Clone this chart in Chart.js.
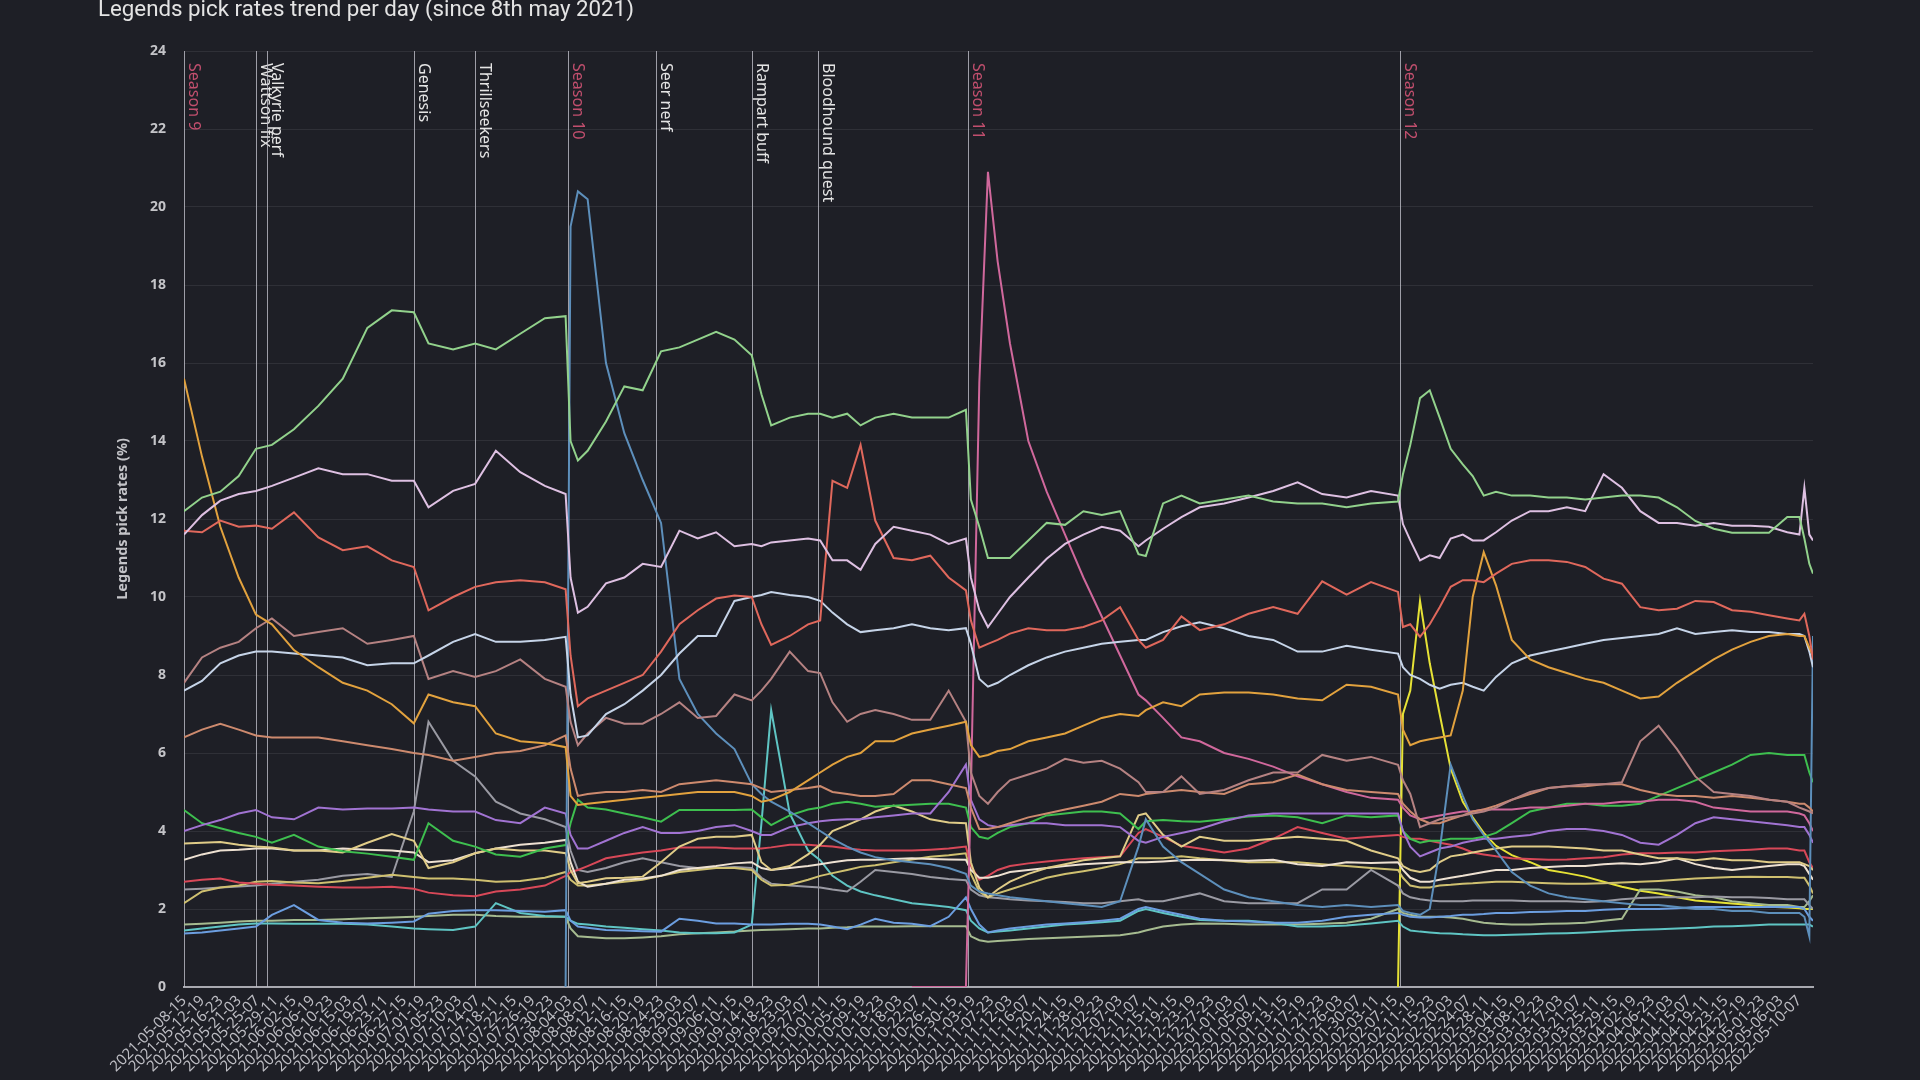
<!DOCTYPE html>
<html>
<head>
<meta charset="utf-8">
<title>Legends pick rates trend per day</title>
<script src="https://cdn.jsdelivr.net/npm/chart.js@4"></script>
<style>
  html, body { margin: 0; padding: 0; background: #1e1f26; overflow: hidden; }
  canvas { display: block; }
</style>
</head>
<body>
<canvas id="chart" width="1920" height="1080"></canvas>
<script>
'use strict';

var ctx = document.getElementById('chart').getContext('2d');

// hours since 2021-05-08 15:00 (one sample per reading)
var hours = [
  0, 98, 198, 298, 392, 479, 599, 732, 865, 999,
  1132, 1252, 1332, 1466, 1586, 1699, 1832, 1966, 2079, 2106,
  2146, 2199, 2299, 2399, 2499, 2599, 2699, 2799, 2899, 2999,
  3093, 3146, 3199, 3300, 3400, 3466, 3533, 3613, 3686, 3766,
  3866, 3966, 4066, 4166, 4260, 4287, 4333, 4380, 4433, 4500,
  4600, 4700, 4800, 4900, 5000, 5100, 5200, 5240, 5334, 5434,
  5534, 5667, 5800, 5934, 6067, 6201, 6334, 6467, 6614, 6641,
  6681, 6734, 6787, 6841, 6901, 6967, 7021, 7081, 7148, 7234,
  7334, 7434, 7534, 7634, 7734, 7834, 7934, 8034, 8134, 8234,
  8334, 8434, 8535, 8635, 8735, 8801, 8828, 8855, 8875
];

var wraithPicks = [
  12.2, 12.55, 12.7, 13.1, 13.8, 13.9, 14.3, 14.9, 15.6, 16.9,
  17.35, 17.3, 16.5, 16.35, 16.5, 16.35, 16.75, 17.15, 17.2, 14.0,
  13.5, 13.75, 14.5, 15.4, 15.3, 16.3, 16.4, 16.6, 16.8, 16.6,
  16.2, 15.2, 14.4, 14.6, 14.7, 14.7, 14.6, 14.7, 14.4, 14.6,
  14.7, 14.6, 14.6, 14.6, 14.8, 12.5, 11.8, 11.0, 11.0, 11.0,
  11.45, 11.9, 11.85, 12.2, 12.1, 12.2, 11.1, 11.05, 12.4, 12.6,
  12.4, 12.5, 12.6, 12.45, 12.4, 12.4, 12.3, 12.4, 12.45, 13.15,
  13.9, 15.1, 15.3, 14.6, 13.8, 13.4, 13.1, 12.6, 12.7, 12.6,
  12.6, 12.55, 12.55, 12.5, 12.55, 12.6, 12.6, 12.55, 12.3, 11.95,
  11.75, 11.65, 11.65, 11.65, 12.05, 12.05, 11.5, 10.85, 10.6
];
var octanePicks = [
  11.6, 12.1, 12.47, 12.64, 12.72, 12.85, 13.06, 13.3, 13.15, 13.15,
  12.98, 12.98, 12.3, 12.72, 12.9, 13.75, 13.2, 12.85, 12.64, 10.5,
  9.6, 9.75, 10.35, 10.5, 10.85, 10.77, 11.7, 11.5, 11.66, 11.3,
  11.36, 11.3, 11.4, 11.45, 11.5, 11.45, 10.94, 10.94, 10.7, 11.36,
  11.8, 11.7, 11.6, 11.36, 11.5, 10.5, 9.66, 9.23, 9.57, 10.0,
  10.5, 10.98, 11.36, 11.6, 11.8, 11.7, 11.3, 11.45, 11.75, 12.05,
  12.3, 12.4, 12.55, 12.72, 12.94, 12.64, 12.55, 12.72, 12.6, 11.87,
  11.45, 10.94, 11.07, 11.0, 11.5, 11.6, 11.45, 11.45, 11.66, 11.96,
  12.2, 12.2, 12.3, 12.2, 13.15, 12.8, 12.2, 11.9, 11.9, 11.83,
  11.9, 11.83, 11.83, 11.8, 11.66, 11.6, 12.8, 11.6, 11.45
];
var pathfinderPicks = [
  11.7, 11.66, 11.96, 11.8, 11.83, 11.75, 12.17, 11.53, 11.2, 11.3,
  10.94, 10.77, 9.66, 10.0, 10.26, 10.38, 10.43, 10.38, 10.2, 8.5,
  7.2, 7.4, 7.6, 7.8, 8.0, 8.6, 9.3, 9.66, 9.96, 10.04,
  10.0, 9.3, 8.77, 9.0, 9.3, 9.4, 12.98, 12.8, 13.9, 11.96,
  11.0, 10.94, 11.06, 10.5, 10.17, 9.4, 8.7, 8.8, 8.9, 9.06,
  9.2, 9.15, 9.15, 9.23, 9.4, 9.74, 8.9, 8.7, 8.9, 9.5,
  9.15, 9.3, 9.57, 9.74, 9.57, 10.4, 10.06, 10.38, 10.13, 9.23,
  9.3, 8.98, 9.3, 9.74, 10.26, 10.43, 10.43, 10.38, 10.6, 10.85,
  10.94, 10.94, 10.9, 10.77, 10.47, 10.34, 9.74, 9.66, 9.7, 9.9,
  9.87, 9.66, 9.62, 9.53, 9.45, 9.4, 9.57, 9.0, 8.4
];
var valkyriePicks = [
  15.6, 13.6, 11.8, 10.5, 9.55, 9.3, 8.64, 8.2, 7.8, 7.6,
  7.25, 6.76, 7.5, 7.3, 7.2, 6.5, 6.3, 6.25, 6.15, 4.9,
  4.67, 4.7, 4.75, 4.8, 4.85, 4.9, 4.95, 5.0, 5.0, 5.0,
  4.9, 4.75, 4.8, 5.0, 5.3, 5.5, 5.7, 5.9, 6.0, 6.3,
  6.3, 6.5, 6.6, 6.7, 6.8, 6.2, 5.9, 5.95, 6.05, 6.1,
  6.3, 6.4, 6.5, 6.7, 6.9, 7.0, 6.95, 7.1, 7.3, 7.2,
  7.5, 7.55, 7.55, 7.5, 7.4, 7.35, 7.75, 7.7, 7.5, 6.6,
  6.2, 6.3, 6.35, 6.4, 6.45, 7.6, 10.0, 11.15, 10.3, 8.9,
  8.4, 8.2, 8.05, 7.9, 7.8, 7.6, 7.4, 7.45, 7.8, 8.1,
  8.4, 8.65, 8.85, 9.0, 9.05, 9.0, 9.0, 8.7, 8.5
];
var bloodhoundPicks = [
  7.6, 7.85, 8.3, 8.5, 8.6, 8.6, 8.55, 8.5, 8.45, 8.25,
  8.3, 8.3, 8.5, 8.85, 9.05, 8.85, 8.85, 8.9, 8.98, 7.5,
  6.4, 6.45, 7.0, 7.25, 7.6, 8.0, 8.55, 9.0, 9.0, 9.9,
  10.0, 10.05, 10.13, 10.05, 10.0, 9.9, 9.6, 9.3, 9.1, 9.15,
  9.2, 9.3, 9.2, 9.15, 9.2, 8.8, 7.9, 7.7, 7.8, 8.0,
  8.25, 8.45, 8.6, 8.7, 8.8, 8.85, 8.9, 8.9, 9.1, 9.25,
  9.35, 9.2, 9.0, 8.9, 8.6, 8.6, 8.75, 8.65, 8.55, 8.2,
  8.0, 7.9, 7.75, 7.65, 7.75, 7.8, 7.7, 7.6, 7.95, 8.3,
  8.5, 8.6, 8.7, 8.8, 8.9, 8.95, 9.0, 9.05, 9.2, 9.05,
  9.1, 9.15, 9.1, 9.1, 9.05, 9.05, 9.0, 8.6, 8.2
];
var lifelinePicks = [
  7.8, 8.45, 8.7, 8.85, 9.2, 9.45, 9.0, 9.1, 9.2, 8.8,
  8.9, 9.0, 7.9, 8.1, 7.95, 8.1, 8.4, 7.9, 7.7, 6.8,
  6.2, 6.5, 6.9, 6.75, 6.75, 7.0, 7.3, 6.9, 6.95, 7.5,
  7.35, 7.6, 7.9, 8.6, 8.1, 8.05, 7.3, 6.8, 7.0, 7.1,
  7.0, 6.85, 6.85, 7.6, 6.8, 5.5, 4.9, 4.7, 5.0, 5.3,
  5.45, 5.6, 5.85, 5.75, 5.8, 5.6, 5.25, 5.0, 5.0, 5.4,
  4.95, 5.05, 5.3, 5.5, 5.5, 5.95, 5.8, 5.9, 5.7, 5.3,
  4.95, 4.1, 4.2, 4.3, 4.35, 4.4, 4.45, 4.5, 4.6, 4.8,
  5.0, 5.1, 5.15, 5.2, 5.2, 5.25, 6.3, 6.7, 6.1, 5.4,
  5.0, 4.95, 4.9, 4.8, 4.75, 4.6, 4.55, 4.5, 4.45
];
var causticPicks = [
  6.4, 6.6, 6.75, 6.6, 6.45, 6.4, 6.4, 6.4, 6.3, 6.2,
  6.1, 6.0, 5.95, 5.8, 5.9, 6.0, 6.05, 6.2, 6.45, 5.6,
  4.9, 4.95, 5.0, 5.0, 5.05, 5.0, 5.2, 5.25, 5.3, 5.25,
  5.2, 5.1, 5.0, 5.05, 5.1, 5.15, 5.0, 4.95, 4.9, 4.9,
  4.95, 5.3, 5.3, 5.2, 5.1, 4.6, 4.05, 4.05, 4.1, 4.2,
  4.35, 4.45, 4.55, 4.65, 4.75, 4.95, 4.9, 4.95, 5.0, 5.05,
  5.0, 4.95, 5.2, 5.25, 5.45, 5.2, 5.05, 5.0, 4.95, 4.7,
  4.5, 4.3, 4.2, 4.2, 4.3, 4.4, 4.5, 4.55, 4.65, 4.8,
  4.95, 5.1, 5.15, 5.15, 5.2, 5.2, 5.05, 4.95, 4.9, 4.9,
  4.85, 4.9, 4.85, 4.8, 4.75, 4.7, 4.7, 4.6, 4.5
];
var seerPicks = [
  null, null, null, null, null, null, null, null, null, null,
  null, null, null, null, null, null, null, null, 0, 19.5,
  20.4, 20.2, 16.0, 14.2, 13.0, 11.9, 7.9, 7.0, 6.5, 6.1,
  5.2, 4.95, 4.75, 4.5, 4.2, 4.0, 3.8, 3.6, 3.45, 3.33,
  3.25, 3.2, 3.15, 3.05, 2.9, 2.6, 2.45, 2.4, 2.35, 2.3,
  2.25, 2.2, 2.15, 2.1, 2.05, 2.2, 3.6, 4.3, 3.6, 3.2,
  2.9, 2.5, 2.3, 2.2, 2.1, 2.05, 2.1, 2.05, 2.1, 1.95,
  1.9, 1.85, 2.0, 3.5, 5.7, 4.9, 4.3, 3.9, 3.5, 2.95,
  2.6, 2.4, 2.3, 2.25, 2.2, 2.15, 2.1, 2.1, 2.05, 2.0,
  2.0, 1.95, 1.95, 1.9, 1.9, 1.9, 1.8, 1.3, 9.0
];
var ashPicks = [
  null, null, null, null, null, null, null, null, null, null,
  null, null, null, null, null, null, null, null, null, null,
  null, null, null, null, null, null, null, null, null, null,
  null, null, null, null, null, null, null, null, null, null,
  null, 0, 0, 0, 0, 5.0, 15.5, 20.9, 18.6, 16.5,
  14.0, 12.7, 11.6, 10.5, 9.5, 8.5, 7.5, 7.35, 6.9, 6.4,
  6.3, 6.0, 5.85, 5.65, 5.4, 5.2, 5.0, 4.85, 4.8, 4.6,
  4.4, 4.3, 4.35, 4.4, 4.45, 4.5, 4.5, 4.55, 4.55, 4.55,
  4.6, 4.6, 4.65, 4.7, 4.7, 4.75, 4.75, 4.8, 4.8, 4.75,
  4.6, 4.55, 4.5, 4.5, 4.5, 4.45, 4.4, 4.2, 4.0
];
var horizonPicks = [
  4.0, 4.15, 4.28, 4.45, 4.54, 4.35, 4.3, 4.6, 4.55, 4.58,
  4.58, 4.6, 4.55, 4.5, 4.5, 4.28, 4.2, 4.6, 4.45, 3.9,
  3.55, 3.55, 3.75, 3.95, 4.1, 3.95, 3.95, 4.0, 4.1, 4.15,
  4.0, 3.9, 3.9, 4.1, 4.2, 4.25, 4.28, 4.3, 4.3, 4.35,
  4.4, 4.45, 4.45, 5.0, 5.7, 4.8, 4.3, 4.15, 4.1, 4.15,
  4.2, 4.2, 4.15, 4.15, 4.15, 4.1, 3.75, 3.7, 3.85, 3.95,
  4.05, 4.25, 4.4, 4.45, 4.45, 4.45, 4.45, 4.45, 4.45, 4.0,
  3.6, 3.35, 3.45, 3.55, 3.6, 3.7, 3.75, 3.8, 3.8, 3.85,
  3.9, 4.0, 4.05, 4.05, 4.0, 3.9, 3.7, 3.65, 3.9, 4.2,
  4.35, 4.3, 4.25, 4.2, 4.15, 4.1, 4.1, 3.9, 3.7
];
var bangalorePicks = [
  4.54, 4.2, 4.07, 3.95, 3.85, 3.7, 3.9, 3.6, 3.48, 3.42,
  3.34, 3.26, 4.2, 3.75, 3.6, 3.4, 3.34, 3.55, 3.64, 4.2,
  4.8, 4.6, 4.55, 4.45, 4.35, 4.24, 4.54, 4.54, 4.54, 4.54,
  4.55, 4.35, 4.15, 4.4, 4.55, 4.6, 4.7, 4.75, 4.7, 4.62,
  4.65, 4.67, 4.7, 4.7, 4.6, 4.1, 3.85, 3.8, 3.95, 4.1,
  4.2, 4.4, 4.45, 4.5, 4.5, 4.45, 4.05, 4.25, 4.28, 4.25,
  4.24, 4.3, 4.37, 4.4, 4.35, 4.2, 4.4, 4.35, 4.4, 4.0,
  3.8, 3.7, 3.75, 3.75, 3.8, 3.8, 3.8, 3.85, 3.95, 4.2,
  4.5, 4.6, 4.7, 4.7, 4.65, 4.65, 4.7, 4.9, 5.1, 5.3,
  5.5, 5.7, 5.95, 6.0, 5.95, 5.95, 5.95, 5.5, 5.25
];
var gibraltarPicks = [
  3.68, 3.7, 3.72, 3.65, 3.6, 3.58, 3.5, 3.5, 3.45, 3.7,
  3.92, 3.75, 3.05, 3.2, 3.43, 3.55, 3.5, 3.5, 3.43, 3.0,
  2.66, 2.7, 2.79, 2.8, 2.83, 3.2, 3.6, 3.8, 3.85, 3.85,
  3.9, 3.2, 3.0, 3.1, 3.4, 3.65, 4.0, 4.15, 4.3, 4.5,
  4.65, 4.5, 4.3, 4.22, 4.2, 3.2, 2.55, 2.3, 2.5, 2.7,
  2.9, 3.05, 3.15, 3.25, 3.3, 3.35, 4.4, 4.45, 3.9, 3.6,
  3.85, 3.75, 3.75, 3.8, 3.85, 3.8, 3.75, 3.5, 3.3, 3.1,
  3.0, 2.95, 3.0, 3.2, 3.35, 3.4, 3.45, 3.5, 3.55, 3.6,
  3.6, 3.6, 3.58, 3.55, 3.5, 3.5, 3.4, 3.3, 3.3, 3.25,
  3.3, 3.25, 3.25, 3.2, 3.2, 3.2, 3.15, 3.1, 3.0
];
var miragePicks = [
  3.26, 3.4, 3.5, 3.52, 3.55, 3.55, 3.5, 3.5, 3.55, 3.52,
  3.5, 3.45, 3.2, 3.25, 3.43, 3.55, 3.65, 3.7, 3.77, 3.2,
  2.7, 2.57, 2.65, 2.75, 2.78, 2.85, 3.0, 3.05, 3.1, 3.17,
  3.2, 3.05, 3.0, 3.05, 3.1, 3.15, 3.2, 3.25, 3.26, 3.26,
  3.28, 3.3, 3.28, 3.27, 3.26, 3.0, 2.8, 2.8, 2.85, 2.95,
  3.0, 3.05, 3.1, 3.15, 3.17, 3.2, 3.2, 3.2, 3.22, 3.25,
  3.26, 3.25, 3.24, 3.26, 3.15, 3.1, 3.2, 3.18, 3.2, 3.0,
  2.8, 2.7, 2.7, 2.75, 2.8, 2.85, 2.9, 2.95, 3.0, 3.0,
  3.05, 3.08, 3.1, 3.1, 3.15, 3.17, 3.15, 3.2, 3.3, 3.15,
  3.05, 3.0, 3.05, 3.1, 3.15, 3.15, 3.1, 2.9, 2.75
];
var revenantPicks = [
  2.7, 2.75, 2.78, 2.68, 2.65, 2.62, 2.6, 2.57, 2.55, 2.55,
  2.57, 2.52, 2.42, 2.35, 2.33, 2.45, 2.5, 2.6, 2.85, 2.95,
  3.0, 3.1, 3.3, 3.38, 3.45, 3.5, 3.58, 3.58, 3.58, 3.55,
  3.55, 3.55, 3.58, 3.65, 3.65, 3.62, 3.6, 3.55, 3.52, 3.5,
  3.5, 3.5, 3.52, 3.55, 3.6, 3.1, 2.75, 2.85, 3.0, 3.1,
  3.17, 3.22, 3.26, 3.3, 3.33, 3.35, 3.95, 4.05, 3.85, 3.62,
  3.55, 3.45, 3.55, 3.8, 4.1, 3.95, 3.8, 3.85, 3.9, 3.85,
  3.8, 3.8, 3.75, 3.7, 3.65, 3.55, 3.45, 3.4, 3.35, 3.3,
  3.28, 3.26, 3.27, 3.3, 3.33, 3.4, 3.43, 3.43, 3.45, 3.45,
  3.48, 3.5, 3.52, 3.55, 3.55, 3.5, 3.5, 3.2, 3.05
];
var lobaPicks = [
  2.15, 2.45, 2.55, 2.6, 2.7, 2.72, 2.68, 2.66, 2.72, 2.8,
  2.88, 2.82, 2.78, 2.78, 2.75, 2.7, 2.72, 2.8, 2.95, 2.75,
  2.6, 2.6, 2.65, 2.7, 2.75, 2.85, 2.95, 3.0, 3.05, 3.05,
  3.0, 2.75, 2.6, 2.62, 2.75, 2.85, 2.92, 3.0, 3.08, 3.12,
  3.2, 3.27, 3.34, 3.38, 3.43, 2.9, 2.45, 2.3, 2.4, 2.5,
  2.65, 2.8, 2.9, 2.97, 3.05, 3.15, 3.3, 3.3, 3.3, 3.35,
  3.3, 3.25, 3.2, 3.2, 3.2, 3.15, 3.1, 3.05, 3.0, 2.8,
  2.6, 2.55, 2.55, 2.6, 2.62, 2.65, 2.66, 2.68, 2.7, 2.7,
  2.68, 2.66, 2.65, 2.65, 2.66, 2.68, 2.7, 2.72, 2.75, 2.78,
  2.8, 2.82, 2.83, 2.82, 2.82, 2.8, 2.8, 2.6, 2.4
];
var fusePicks = [
  2.5, 2.52, 2.55, 2.58, 2.6, 2.65, 2.7, 2.75, 2.85, 2.9,
  2.82, 4.5, 6.8, 5.8, 5.4, 4.75, 4.45, 4.3, 4.1, 3.5,
  3.0, 2.95, 3.05, 3.2, 3.3, 3.2, 3.1, 3.05, 3.05, 3.08,
  3.05, 2.8, 2.65, 2.6, 2.57, 2.55, 2.5, 2.45, 2.7, 3.0,
  2.95, 2.9, 2.82, 2.77, 2.74, 2.5, 2.35, 2.3, 2.28, 2.25,
  2.22, 2.2, 2.18, 2.15, 2.15, 2.2, 2.25, 2.2, 2.2, 2.3,
  2.4, 2.2, 2.15, 2.15, 2.15, 2.5, 2.5, 3.0, 2.6, 2.4,
  2.3, 2.25, 2.22, 2.2, 2.2, 2.2, 2.22, 2.22, 2.22, 2.22,
  2.2, 2.2, 2.2, 2.18, 2.2, 2.25, 2.28, 2.3, 2.3, 2.3,
  2.32, 2.3, 2.3, 2.28, 2.25, 2.25, 2.25, 2.1, 2.0
];
var cryptoPicks = [
  1.37, 1.4, 1.45, 1.5, 1.55, 1.85, 2.1, 1.72, 1.65, 1.63,
  1.65, 1.68, 1.88, 1.95, 1.97, 1.97, 1.95, 1.93, 1.97, 1.7,
  1.55, 1.52, 1.46, 1.45, 1.43, 1.42, 1.75, 1.7, 1.63, 1.63,
  1.6, 1.6, 1.6, 1.62, 1.62, 1.6, 1.55, 1.48, 1.6, 1.75,
  1.65, 1.62, 1.56, 1.8, 2.3, 2.0, 1.6, 1.4, 1.45, 1.5,
  1.55, 1.6, 1.63, 1.66, 1.7, 1.75, 2.0, 2.05, 1.95, 1.85,
  1.75, 1.7, 1.68, 1.65, 1.65, 1.7, 1.8, 1.85, 1.9, 1.85,
  1.8, 1.78, 1.78, 1.8, 1.82, 1.85, 1.85, 1.87, 1.9, 1.9,
  1.92, 1.93, 1.95, 1.95, 1.98, 2.0, 2.0, 2.0, 2.02, 2.05,
  2.05, 2.05, 2.05, 2.05, 2.05, 2.05, 2.0, 1.8, 1.7
];
var rampartPicks = [
  1.45, 1.5, 1.55, 1.6, 1.63, 1.63, 1.62, 1.62, 1.62, 1.6,
  1.55, 1.5, 1.48, 1.46, 1.55, 2.15, 1.9, 1.82, 1.8, 1.7,
  1.62, 1.6, 1.55, 1.52, 1.48, 1.45, 1.4, 1.38, 1.38, 1.4,
  1.6, 4.2, 7.1, 4.45, 3.5, 3.25, 2.85, 2.6, 2.45, 2.35,
  2.25, 2.15, 2.1, 2.05, 1.97, 1.7, 1.5, 1.4, 1.42, 1.45,
  1.5, 1.55, 1.6, 1.63, 1.66, 1.7, 1.95, 2.0, 1.9, 1.8,
  1.72, 1.7, 1.7, 1.65, 1.55, 1.55, 1.58, 1.63, 1.7, 1.55,
  1.45, 1.42, 1.4, 1.38, 1.37, 1.35, 1.34, 1.33, 1.33, 1.34,
  1.35, 1.37, 1.38, 1.4, 1.42, 1.45, 1.47, 1.48, 1.5, 1.52,
  1.55, 1.56, 1.58, 1.6, 1.6, 1.6, 1.6, 1.6, 1.55
];
var wattsonPicks = [
  1.6, 1.62, 1.65, 1.68, 1.7, 1.7, 1.72, 1.72, 1.74, 1.76,
  1.78, 1.8, 1.82, 1.85, 1.85, 1.82, 1.8, 1.8, 1.8, 1.5,
  1.3, 1.28, 1.25, 1.25, 1.27, 1.3, 1.35, 1.38, 1.4, 1.42,
  1.45, 1.46, 1.47, 1.48, 1.5, 1.5, 1.52, 1.53, 1.55, 1.55,
  1.55, 1.56, 1.56, 1.56, 1.56, 1.3, 1.2, 1.16, 1.18, 1.2,
  1.23, 1.25, 1.27, 1.29, 1.31, 1.33, 1.4, 1.45, 1.55, 1.6,
  1.63, 1.62, 1.6, 1.6, 1.6, 1.62, 1.65, 1.75, 2.0, 1.9,
  1.85, 1.8, 1.8, 1.8, 1.78, 1.75, 1.7, 1.65, 1.62, 1.6,
  1.6, 1.62, 1.63, 1.65, 1.7, 1.75, 2.5, 2.5, 2.45, 2.35,
  2.3, 2.2, 2.15, 2.1, 2.1, 2.05, 2.05, 2.2, 2.35
];
var maggiePicks = [
  null, null, null, null, null, null, null, null, null, null,
  null, null, null, null, null, null, null, null, null, null,
  null, null, null, null, null, null, null, null, null, null,
  null, null, null, null, null, null, null, null, null, null,
  null, null, null, null, null, null, null, null, null, null,
  null, null, null, null, null, null, null, null, null, null,
  null, null, null, null, null, null, null, null, 0, 7.0,
  7.6, 9.9, 8.3, 7.0, 5.6, 4.75, 4.35, 3.95, 3.62, 3.38,
  3.2, 3.0, 2.92, 2.83, 2.7, 2.57, 2.47, 2.4, 2.3, 2.22,
  2.18, 2.14, 2.1, 2.06, 2.04, 2.02, 2.0, 2.0, 2.0
];

var legendNames = ['Wraith', 'Octane', 'Pathfinder', 'Valkyrie', 'Bloodhound', 'Lifeline', 'Caustic',
  'Seer', 'Ash', 'Horizon', 'Bangalore', 'Gibraltar', 'Mirage', 'Revenant', 'Loba', 'Fuse',
  'Crypto', 'Rampart', 'Wattson', 'Mad Maggie'];
var legendRates = [wraithPicks, octanePicks, pathfinderPicks, valkyriePicks, bloodhoundPicks,
  lifelinePicks, causticPicks, seerPicks, ashPicks, horizonPicks, bangalorePicks, gibraltarPicks,
  miragePicks, revenantPicks, lobaPicks, fusePicks, cryptoPicks, rampartPicks, wattsonPicks, maggiePicks];
var legendColors = ['#92d28c', '#dec0e2', '#e0685c', '#e2a23e', '#c6d4e8', '#b58282', '#cd8a6e',
  '#5d8fbb', '#d0689c', '#a173d2', '#3ebf4f', '#e0cc88', '#eee1d2', '#d84858', '#cfc070', '#9a9aa3',
  '#6c9ee0', '#5fc5c4', '#a6bb90', '#e6e236'];

// patch notes / seasons
var eventNames = ['Season 9', 'Wattson fix', 'Valkyrie perf', 'Genesis', 'Thrillseekers', 'Season 10',
  'Seer nerf', 'Rampart buff', 'Bloodhound quest', 'Season 11', 'Season 12'];
var eventHours = [0, 392, 452, 1252, 1586, 2092, 2573, 3093, 3453, 4273, 6627];

// x tick labels every 100 hours
var startTime = Date.UTC(2021, 4, 8, 15);
var tickLabels = [];
for (var t = 0; t <= 8800; t += 100) {
  var iso = new Date(startTime + t * 3600 * 1000).toISOString();
  tickLabels.push(iso.slice(0, 10) + '-' + iso.slice(11, 13));
}

var eventLines = {
  id: 'eventLines',
  beforeDatasetsDraw: function (chart) {
    var c = chart.ctx;
    var area = chart.chartArea;
    var xScale = chart.scales.x;
    c.save();
    for (var i = 0; i < eventHours.length; i++) {
      var px = Math.round(xScale.getPixelForValue(eventHours[i])) + 0.5;
      c.strokeStyle = 'rgba(190,190,200,0.8)';
      c.lineWidth = 1;
      c.beginPath();
      c.moveTo(px, area.top);
      c.lineTo(px, area.bottom);
      c.stroke();

      c.save();
      c.translate(px + 1, area.top + 12);
      c.rotate(Math.PI / 2);
      c.font = '16px "Noto Sans"';
      c.textBaseline = 'bottom';
      c.fillStyle = eventNames[i].indexOf('Season') === 0 ? '#c24f6e' : '#e4e4e4';
      c.fillText(eventNames[i], 0, 0);
      c.restore();
    }
    c.restore();
  }
};

var pageTitle = {
  id: 'pageTitle',
  afterDraw: function (chart) {
    var c = chart.ctx;
    c.save();
    c.font = '22.3px Roboto';
    c.fillStyle = '#e4e4e4';
    c.fillText('Legends pick rates trend per day (since 8th may 2021)', 98, 16);
    c.restore();
  }
};

function makeChart() {
  var datasets = [];
  for (var i = 0; i < legendNames.length; i++) {
    var points = [];
    for (var j = 0; j < hours.length; j++) {
      points.push({ x: hours[j], y: legendRates[i][j] });
    }
    datasets.push({
      label: legendNames[i],
      data: points,
      borderColor: legendColors[i],
      backgroundColor: legendColors[i],
      borderWidth: 2,
      pointRadius: 0,
      fill: false,
      tension: 0
    });
  }

  return new Chart(ctx, {
    type: 'line',
    data: { datasets: datasets },
    options: {
      responsive: false,
      animation: false,
      layout: { padding: { top: 51, right: 107, bottom: 0, left: 110 } },
      plugins: {
        legend: { display: false },
        tooltip: { enabled: false }
      },
      scales: {
        x: {
          type: 'linear',
          min: 0,
          max: 8875,
          grid: { display: false, drawTicks: false },
          border: { color: '#a9a9b0', width: 2 },
          ticks: {
            stepSize: 100,
            includeBounds: false,
            autoSkip: false,
            minRotation: 45,
            maxRotation: 45,
            padding: 5,
            color: '#bdbdc3',
            font: { family: 'Noto Sans', size: 15 },
            callback: function (v) { return tickLabels[Math.round(v / 100)]; }
          },
          afterFit: function (scale) { scale.height = 93; }
        },
        y: {
          min: 0,
          max: 24,
          grid: { color: 'rgba(255,255,255,0.08)', drawTicks: false },
          border: { display: false },
          ticks: {
            stepSize: 2,
            padding: 18,
            color: '#c4c4c8',
            font: { family: 'Noto Sans', size: 14, weight: 'bold' }
          },
          title: {
            display: true,
            text: 'Legends pick rates (%)',
            color: '#c4c4c8',
            font: { family: 'Noto Sans', size: 14.5, weight: 'bold' }
          },
          afterFit: function (scale) { scale.width = 74; }
        }
      }
    },
    plugins: [eventLines, pageTitle]
  });
}

makeChart();
</script>
</body>
</html>
